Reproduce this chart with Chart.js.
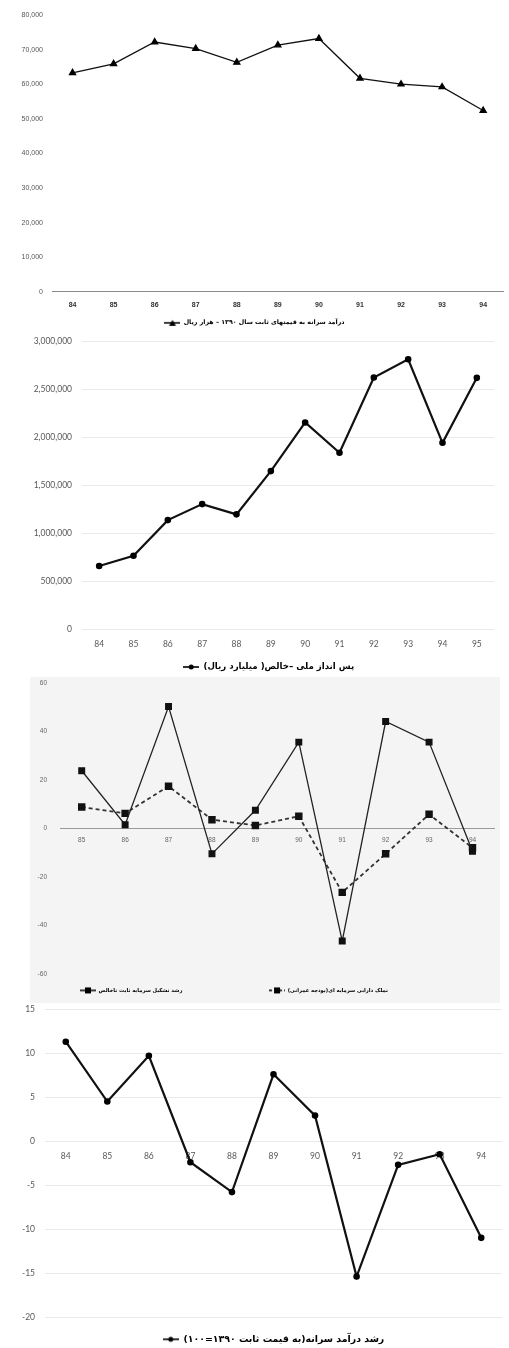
<!DOCTYPE html>
<html><head><meta charset="utf-8">
<script src="https://cdn.jsdelivr.net/npm/chart.js@4.4.1/dist/chart.umd.min.js"></script>
<style>
html,body{margin:0;padding:0;background:#fff;}
body{width:509px;height:1348px;position:relative;overflow:hidden;}
.box{position:absolute;}
</style></head><body>
<div class="box" style="left:0;top:0;width:509px;height:335px"><canvas id="k1"></canvas></div>
<div class="box" style="left:0;top:335px;width:509px;height:345px"><canvas id="k2"></canvas></div>
<div class="box" style="left:30px;top:677px;width:470px;height:326px;background:#f4f4f4"><canvas id="k3"></canvas></div>
<div class="box" style="left:0;top:1003px;width:509px;height:345px"><canvas id="k4"></canvas></div>
<script>
// ---- data ----
const years1 = ['84','85','86','87','88','89','90','91','92','93','94'];
const incomePerCapita = [63300, 65900, 72200, 70300, 66300, 71300, 73200, 61700, 60000, 59200, 52400];
const label1 = 'درآمد سرانه به قیمتهای ثابت سال ۱۳۹۰ – هزار ریال';

const years2 = ['84','85','86','87','88','89','90','91','92','93','94','95'];
const netSavings = [656000, 764000, 1135000, 1302000, 1195000, 1646000, 2153000, 1837000, 2622000, 2812000, 1941000, 2618000];
const label2 = 'پس انداز ملی –خالص( میلیارد ریال)';

const years3 = ['85','86','87','88','89','90','91','92','93','94'];
const gfcfGrowth = [23.8, 1.5, 50.3, -10.5, 7.5, 35.6, -46.5, 44.1, 35.6, -9.4];
const capitalBudget = [8.8, 6.2, 17.4, 3.6, 1.2, 5.0, -26.4, -10.5, 5.8, -8.0];
const label3a = 'رشد تشکیل سرمایه ثابت ناخالص';
const label3b = 'تملک دارایی سرمایه ای(بودجه عمرانی)';

const years4 = ['84','85','86','87','88','89','90','91','92','93','94'];
const incomeGrowth = [11.3, 4.5, 9.7, -2.4, -5.8, 7.6, 2.9, -15.4, -2.7, -1.5, -11.0];
const label4 = 'رشد درآمد سرانه(به قیمت ثابت ۱۳۹۰=۱۰۰)';

// ---- helpers ----
const RLM = '\u200F';
function makeIcon(shape, dashed, lw) {
  const c = document.createElement('canvas');
  c.width = 16; c.height = 8;
  const g = c.getContext('2d');
  g.strokeStyle = '#000'; g.fillStyle = '#000'; g.lineWidth = lw;
  if (dashed) g.setLineDash([3, 2]);
  g.beginPath(); g.moveTo(0, 4); g.lineTo(16, 4); g.stroke();
  g.setLineDash([]);
  if (shape === 'triangle') { g.beginPath(); g.moveTo(8, 1); g.lineTo(11.5, 7); g.lineTo(4.5, 7); g.closePath(); g.fill(); }
  else if (shape === 'rect') { g.fillRect(5, 1, 6, 6); }
  else { g.beginPath(); g.arc(8, 4, 2.5, 0, Math.PI * 2); g.fill(); }
  return c;
}
function legendOpts(icons, size, pad, spacers, fullSize) {
  return {
    display: true, position: 'bottom', align: 'center', fullSize: fullSize !== false,
    labels: {
      usePointStyle: true, pointStyleWidth: 16, padding: pad, color: '#000',
      font: { family: 'DejaVu Sans', size: size, weight: 'bold' },
      generateLabels: (chart) => chart.data.datasets.map((d, i) => ({
        text: RLM + d.label + RLM + (spacers ? spacers[i] : ''), pointStyle: icons[i], fillStyle: '#000', strokeStyle: '#000',
        lineWidth: 0, hidden: false, datasetIndex: i, fontColor: '#000'
      }))
    }
  };
}
const yFit = w => (s => { s.width = w; s.paddingTop = 0; s.paddingBottom = 0; });
const xFit = s => { s.paddingLeft = 0; s.paddingRight = 0; };
const EM = '\u2003', EN = '\u2002';
Chart.defaults.animation = false;
Chart.defaults.responsive = true;
Chart.defaults.maintainAspectRatio = false;
Chart.defaults.plugins.tooltip.enabled = false;
const fmt = v => Number(v).toLocaleString('en-US');

// ---- chart 1 ----
new Chart(document.getElementById('k1'), {
  type: 'line',
  data: { labels: years1, datasets: [{ label: label1, data: incomePerCapita, borderColor: '#111', borderWidth: 1.3,
    pointStyle: 'triangle', pointRadius: 3.5, pointBackgroundColor: '#000', pointBorderColor: '#000', tension: 0 }] },
  options: {
    layout: { padding: { top: 15, right: 0, bottom: -1, left: 0 } },
    scales: {
      x: { offset: true, grid: { display: false, drawTicks: false }, border: { display: true, color: '#8a8a8a', width: 1 },
        ticks: { padding: 9, color: '#333', font: { family: 'Liberation Sans', size: 7, weight: 'bold' } }, afterFit: xFit },
      y: { min: 0, max: 80000, grid: { display: false, drawTicks: false }, border: { display: false },
        ticks: { stepSize: 10000, padding: 9, color: '#555', font: { family: 'Liberation Sans', size: 7 }, callback: fmt },
        afterFit: yFit(52) }
    },
    plugins: { legend: legendOpts([makeIcon('triangle', false, 1.5)], 6.3, 1.5) }
  }
});

// ---- chart 2 ----
new Chart(document.getElementById('k2'), {
  type: 'line',
  data: { labels: years2, datasets: [{ label: label2, data: netSavings, borderColor: '#111', borderWidth: 2.2,
    pointStyle: 'circle', pointRadius: 2.2, pointBackgroundColor: '#000', pointBorderColor: '#000', tension: 0 }] },
  options: {
    layout: { padding: { top: 6, right: 15, bottom: -1.3, left: 0 } },
    scales: {
      x: { offset: true, grid: { display: false, drawTicks: false }, border: { display: false },
        ticks: { padding: 10, color: '#595959', font: { family: 'Lato', size: 8.5 } }, afterFit: xFit },
      y: { min: 0, max: 3000000, grid: { color: '#e9e9e9', lineWidth: 1, drawTicks: false }, border: { display: false },
        ticks: { stepSize: 500000, padding: 10, color: '#595959', font: { family: 'Lato', size: 8.5 }, callback: fmt },
        afterFit: yFit(82) }
    },
    plugins: { legend: legendOpts([makeIcon('circle', false, 1.6)], 8.6, 3.5, [EM.repeat(4) + EN], false) }
  }
});

// ---- chart 3 ----
new Chart(document.getElementById('k3'), {
  type: 'line',
  data: { labels: years3, datasets: [
    { label: label3a, data: gfcfGrowth, borderColor: '#222', borderWidth: 1.3,
      pointStyle: 'rect', pointRadius: 4, pointBackgroundColor: '#111', pointBorderColor: '#111', tension: 0 },
    { label: label3b, data: capitalBudget, borderColor: '#333', borderWidth: 1.8, borderDash: [4, 3],
      pointStyle: 'rect', pointRadius: 4, pointBackgroundColor: '#111', pointBorderColor: '#111', tension: 0 }
  ] },
  options: {
    layout: { padding: { top: 6, right: 5, bottom: 0, left: 0 } },
    scales: {
      x: { position: { y: 0 }, offset: true, grid: { display: false, drawTicks: false }, border: { display: true, color: '#9a9a9a', width: 1 },
        ticks: { padding: 8, color: '#666', font: { family: 'Liberation Sans', size: 6.5 } }, afterFit: xFit },
      y: { min: -60, max: 60, grid: { display: false, drawTicks: false }, border: { display: false },
        ticks: { stepSize: 20, padding: 13, color: '#666', font: { family: 'Liberation Sans', size: 6.5 } },
        afterFit: yFit(30) }
    },
    plugins: { legend: legendOpts([makeIcon('rect', false, 1.5), makeIcon('rect', true, 1.5)], 5.2, 14, [EM.repeat(14), EM.repeat(11)]) }
  }
});

// ---- chart 4 ----
new Chart(document.getElementById('k4'), {
  type: 'line',
  data: { labels: years4, datasets: [{ label: label4, data: incomeGrowth, borderColor: '#111', borderWidth: 2.2,
    pointStyle: 'circle', pointRadius: 2.2, pointBackgroundColor: '#000', pointBorderColor: '#000', tension: 0 }] },
  options: {
    layout: { padding: { top: 4, right: 7, bottom: -6, left: 0 } },
    scales: {
      x: { position: { y: 0 }, offset: true, grid: { display: false, drawTicks: false }, border: { display: false },
        ticks: { padding: 10, color: '#595959', font: { family: 'Lato', size: 8.5 } }, afterFit: xFit },
      y: { min: -20, max: 15, grid: { color: '#e9e9e9', lineWidth: 1, drawTicks: false }, border: { display: false },
        ticks: { stepSize: 5, padding: 10, color: '#595959', font: { family: 'Lato', size: 8.5 } },
        afterFit: yFit(45) }
    },
    plugins: { legend: legendOpts([makeIcon('circle', false, 1.6)], 9.4, 17.6, null, false) }
  }
});
</script>
</body></html>
